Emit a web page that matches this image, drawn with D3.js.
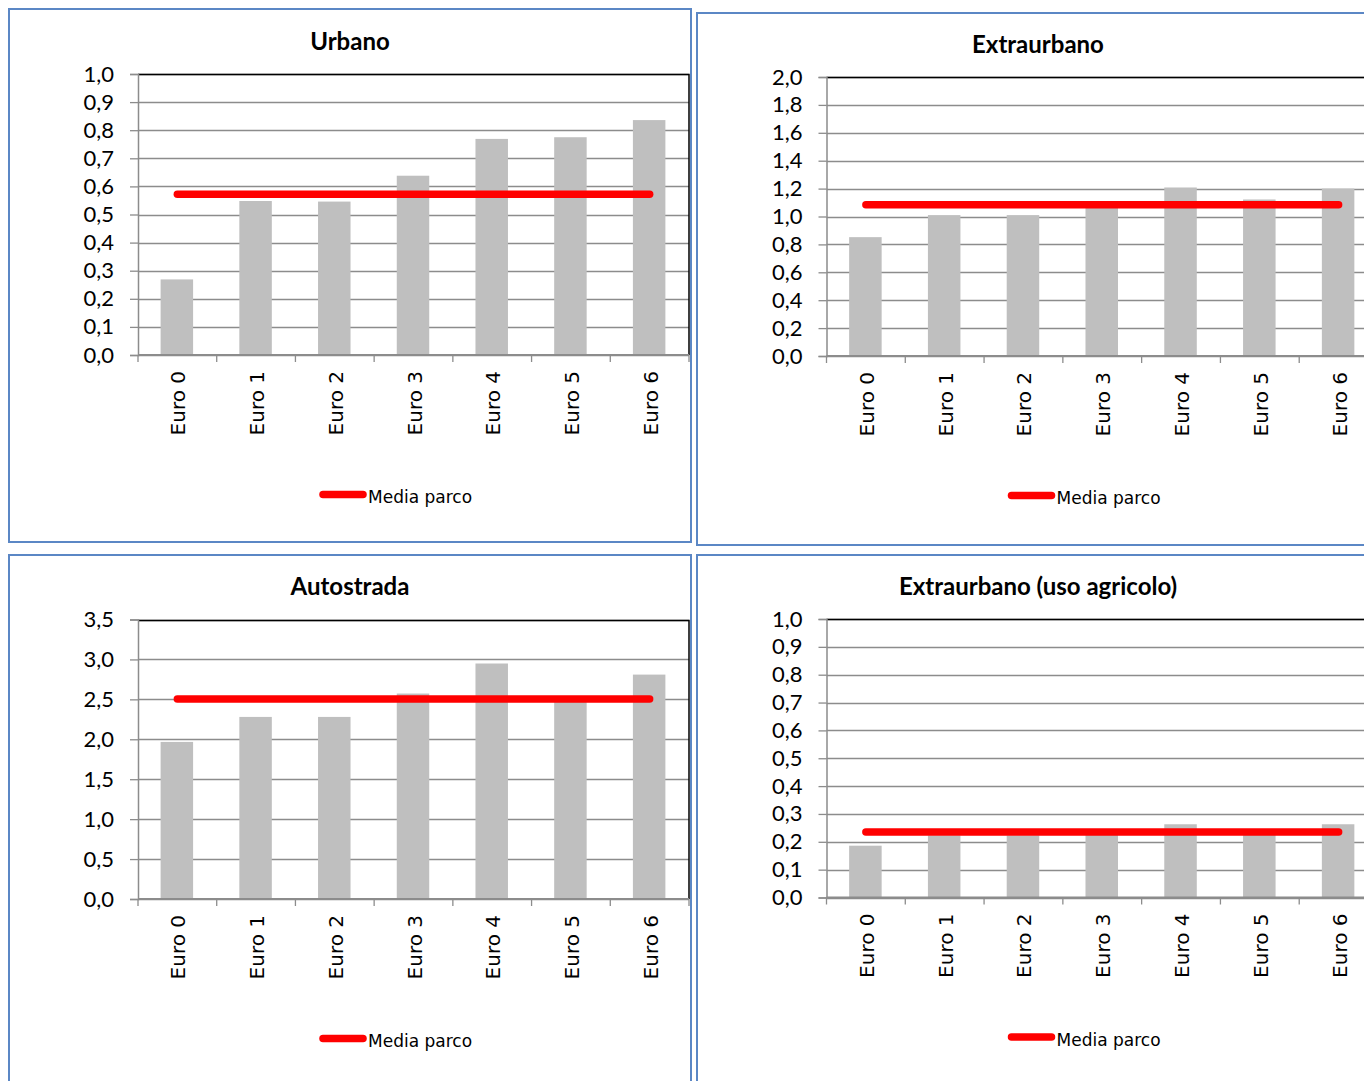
<!DOCTYPE html>
<html>
<head>
<meta charset="utf-8">
<script src="https://cdn.jsdelivr.net/npm/d3@7"></script>
<style>
  html, body { margin: 0; padding: 0; background: #fff; }
  svg { display: block; }
</style>
</head>
<body>
<svg id="chart" width="1364" height="1081"></svg>
<script>
// ---- data ----
const categories = ["Euro 0", "Euro 1", "Euro 2", "Euro 3", "Euro 4", "Euro 5", "Euro 6"];
const titles = ["Urbano", "Extraurbano", "Autostrada", "Extraurbano (uso agricolo)"];
const legendLabel = "Media parco";

const urbano = [0.269, 0.548, 0.546, 0.638, 0.769, 0.775, 0.836];
const urbanoMedia = 0.572;
const extraurbano = [0.852, 1.01, 1.01, 1.07, 1.208, 1.122, 1.20];
const extraurbanoMedia = 1.084;
const autostrada = [1.967, 2.28, 2.28, 2.573, 2.949, 2.48, 2.81];
const autostradaMedia = 2.506;
const agricolo = [0.186, 0.223, 0.223, 0.226, 0.263, 0.245, 0.263];
const agricoloMedia = 0.235;

const yMaxes = [1.0, 2.0, 3.5, 1.0];
const ySteps = [0.1, 0.2, 0.5, 0.1];

// ---- layout ----
const panels = [
  { box: [9, 9, 682, 533],   plot: [138, 74, 689, 355],      values: urbano,      media: urbanoMedia },
  { box: [697, 13, 682, 532], plot: [826.5, 77, 1378, 356],  values: extraurbano, media: extraurbanoMedia },
  { box: [9, 555, 682, 533], plot: [138, 619.5, 689, 899],   values: autostrada,  media: autostradaMedia },
  { box: [697, 555, 682, 533], plot: [826.5, 619, 1378, 897.5], values: agricolo, media: agricoloMedia }
];

const svg = d3.select("#chart");
const fmt = v => d3.format(".1f")(v).replace(".", ",");

panels.forEach((p, i) => {
  const [bx, by, bw, bh] = p.box;
  const [l, t, r, b] = p.plot;
  const g = svg.append("g");

  // panel border
  g.append("rect")
    .attr("x", bx).attr("y", by).attr("width", bw).attr("height", bh)
    .attr("fill", "#fff").attr("stroke", "#5b87c5").attr("stroke-width", 2);

  const x = d3.scaleBand().domain(categories).range([l, r]).paddingInner(0.6).paddingOuter(0.3);
  const xb = d3.scaleBand().domain(categories).range([l, r]).padding(0);
  const y = d3.scaleLinear().domain([0, yMaxes[i]]).range([b, t]);
  const ticks = d3.range(0, yMaxes[i] + ySteps[i] / 2, ySteps[i]);

  // gridlines
  g.append("g").selectAll("line").data(ticks).join("line")
    .attr("x1", l).attr("x2", r)
    .attr("y1", d => Math.round(y(d)) + 0.5).attr("y2", d => Math.round(y(d)) + 0.5)
    .attr("stroke", "#8c8c8c").attr("stroke-width", 1.3);

  // plot border top/right
  g.append("path")
    .attr("d", `M${l},${Math.round(t) + 0.5}H${r}V${b}`)
    .attr("fill", "none").attr("stroke", "#000").attr("stroke-width", 1.5);

  // bars
  g.append("g").selectAll("rect").data(p.values).join("rect")
    .attr("x", (d, k) => x(categories[k]) - 1)
    .attr("width", x.bandwidth() + 1)
    .attr("y", d => y(d))
    .attr("height", d => b - y(d))
    .attr("fill", "#bfbfbf");

  // y axis
  const ya = g.append("g").attr("transform", `translate(${l},0)`)
    .call(d3.axisLeft(y).tickValues(ticks).tickFormat(fmt).tickSize(8).tickPadding(16));
  ya.select(".domain").attr("stroke", "#8c8c8c").attr("stroke-width", 1.5);
  ya.selectAll(".tick line").attr("stroke", "#8c8c8c").attr("stroke-width", 1.3);
  ya.selectAll("text").attr("font-family", "Lato, sans-serif").attr("font-size", 22).attr("fill", "#000");

  // x axis line and boundary ticks
  g.append("line").attr("x1", l).attr("x2", r).attr("y1", b).attr("y2", b)
    .attr("stroke", "#8c8c8c").attr("stroke-width", 2);
  g.append("g").selectAll("line").data(categories).join("line")
    .attr("x1", d => xb(d)).attr("x2", d => xb(d))
    .attr("y1", b).attr("y2", b + 7)
    .attr("stroke", "#8c8c8c").attr("stroke-width", 1.3);
  g.append("line").attr("x1", r).attr("x2", r).attr("y1", b).attr("y2", b + 7)
    .attr("stroke", "#8c8c8c").attr("stroke-width", 1.3);

  const xa = g.append("g").attr("transform", `translate(0,${b})`)
    .call(d3.axisBottom(xb).tickSize(0).tickPadding(0));
  xa.select(".domain").remove();
  xa.selectAll("text")
    .attr("font-family", "DejaVu Sans, sans-serif").attr("font-size", 20).attr("fill", "#000")
    .attr("text-anchor", "end")
    .attr("transform", "translate(0,16) rotate(-90)")
    .attr("x", 0).attr("y", 0).attr("dy", "0.4em");

  // media line
  const line = d3.line().x(d => xb(d) + xb.bandwidth() / 2).y(() => y(p.media));
  g.append("path").datum(categories).attr("d", line)
    .attr("fill", "none").attr("stroke", "#ff0000").attr("stroke-width", 7.5)
    .attr("stroke-linecap", "round");

  // title
  g.append("text")
    .attr("x", bx + bw / 2).attr("y", t - 24.5)
    .attr("text-anchor", "middle")
    .attr("font-family", "Lato, sans-serif").attr("font-weight", "bold").attr("font-size", 24)
    .attr("fill", "#000")
    .text(titles[i]);

  // legend
  const ly = b + 139.5;
  g.append("line").attr("x1", l + 185).attr("x2", l + 225).attr("y1", ly).attr("y2", ly)
    .attr("stroke", "#ff0000").attr("stroke-width", 7.5).attr("stroke-linecap", "round");
  g.append("text").attr("x", l + 230).attr("y", ly + 8.5)
    .attr("font-family", "DejaVu Sans, sans-serif").attr("font-size", 17).attr("fill", "#000")
    .text(legendLabel);
});
</script>
</body>
</html>
